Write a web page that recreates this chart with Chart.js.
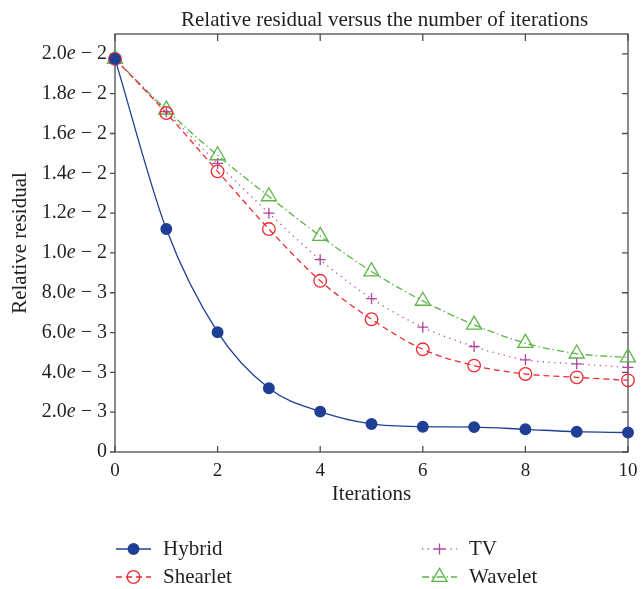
<!DOCTYPE html>
<html>
<head>
<meta charset="utf-8">
<script src="https://cdn.jsdelivr.net/npm/chart.js@4"></script>
<style>
  html, body { margin: 0; padding: 0; background: #fff; }
  canvas { display: block; }
</style>
</head>
<body>
<canvas id="myChart" width="641" height="589"></canvas>
<script>
// data
const iterations = [0, 1, 2, 3, 4, 5, 6, 7, 8, 9, 10];
const hybrid   = [0.01975, 0.0112, 0.00602, 0.0032, 0.00203, 0.00141, 0.00127, 0.00125, 0.00114, 0.00102, 0.00098];
const shearlet = [0.01975, 0.01703, 0.0141, 0.0112, 0.0086, 0.00667, 0.00516, 0.00434, 0.00392, 0.00375, 0.0036];
const tv       = [0.01975, 0.0171, 0.0145, 0.012, 0.00966, 0.00771, 0.00627, 0.0053, 0.00463, 0.00443, 0.00425];
const wavelet  = [0.01975, 0.0172, 0.0149, 0.01284, 0.01085, 0.00907, 0.00759, 0.00639, 0.00547, 0.00494, 0.00475];
const yTicks = [0, 0.002, 0.004, 0.006, 0.008, 0.010, 0.012, 0.014, 0.016, 0.018, 0.020];
const xTicks = [0, 2, 4, 6, 8, 10];
const titleText = 'Relative residual versus the number of iterations';

const SERIF = "'Liberation Serif', 'DejaVu Serif', serif";
const TEXT = '#231f20';
const AXIS = '#4d4d4d';

function pts(ys) {
    return iterations.map((x, i) => ({ x: x, y: ys[i] }));
}

// "2.0e − 3" with italic e
function tickParts(v) {
    if (v === 0) return ['0', '', ''];
    let exp = Math.floor(Math.log10(v) + 1e-9);
    let man = (v / Math.pow(10, exp)).toFixed(1);
    return [man, 'e', ' \u2212 ' + (-exp)];
}

// axes box, ticks, y tick labels and the title
const frame = {
    id: 'frame',
    beforeDatasetsDraw(chart) {
        const { ctx, chartArea: a } = chart;
        const xs = chart.scales.x, ys = chart.scales.y;
        ctx.save();
        ctx.strokeStyle = AXIS;
        ctx.lineWidth = 1.3;
        ctx.strokeRect(a.left, a.top, a.right - a.left, a.bottom - a.top);
        ctx.beginPath();
        xTicks.forEach(v => {
            const px = xs.getPixelForValue(v);
            ctx.moveTo(px, a.bottom); ctx.lineTo(px, a.bottom - 6);
            ctx.moveTo(px, a.top); ctx.lineTo(px, a.top + 7);
        });
        yTicks.forEach(v => {
            const py = ys.getPixelForValue(v);
            ctx.moveTo(a.left, py); ctx.lineTo(a.left - 5, py);
            ctx.moveTo(a.right, py); ctx.lineTo(a.right - 6, py);
        });
        ctx.stroke();

        ctx.fillStyle = TEXT;
        ctx.textBaseline = 'middle';
        ctx.textAlign = 'left';
        const fN = '20px ' + SERIF, fI = 'italic 20px ' + SERIF;
        yTicks.forEach(v => {
            const py = ys.getPixelForValue(v);
            const [m, e, rest] = tickParts(v);
            ctx.font = fN; const w1 = ctx.measureText(m).width, w3 = ctx.measureText(rest).width;
            ctx.font = fI; const w2 = ctx.measureText(e).width;
            let x = a.left - 8 - (w1 + w2 + w3);
            ctx.font = fN; ctx.fillText(m, x, py); x += w1;
            ctx.font = fI; ctx.fillText(e, x, py); x += w2;
            ctx.font = fN; ctx.fillText(rest, x, py);
        });

        ctx.font = '21px ' + SERIF;
        ctx.textBaseline = 'alphabetic';
        ctx.fillText(titleText, 181, 25.5);
        ctx.restore();
    }
};

// two-column legend under the plot
const legendPos = [
    { x: 116, y: 549 },
    { x: 116, y: 577 },
    { x: 422, y: 549 },
    { x: 422, y: 577 }
];
const bottomLegend = {
    id: 'bottomLegend',
    afterDraw(chart) {
        const ctx = chart.ctx;
        chart.data.datasets.forEach((ds, i) => {
            const p = legendPos[i];
            ctx.save();
            ctx.strokeStyle = ds.borderColor;
            ctx.lineWidth = ds.borderWidth;
            ctx.setLineDash(ds.borderDash || []);
            ctx.beginPath();
            ctx.moveTo(p.x, p.y); ctx.lineTo(p.x + 35, p.y);
            ctx.stroke();
            ctx.setLineDash([]);
            ctx.fillStyle = ds.pointBackgroundColor;
            ctx.strokeStyle = ds.pointBorderColor;
            ctx.lineWidth = ds.pointBorderWidth;
            Chart.helpers.drawPoint(ctx, {
                pointStyle: ds.pointStyle,
                radius: ds.pointRadius,
                borderWidth: ds.pointBorderWidth,
                rotation: 0
            }, p.x + 17.5, p.y);
            ctx.fillStyle = TEXT;
            ctx.font = '21px ' + SERIF;
            ctx.textBaseline = 'middle';
            ctx.fillText(ds.label, p.x + 47, p.y);
            ctx.restore();
        });
    }
};

function series(label, data, color, dash, style, radius, fill) {
    return {
        label: label,
        data: pts(data),
        borderColor: color,
        borderWidth: 1.3,
        borderDash: dash,
        pointStyle: style,
        pointRadius: radius,
        pointHoverRadius: radius,
        pointBorderColor: color,
        pointBorderWidth: 1.3,
        pointBackgroundColor: fill,
        cubicInterpolationMode: 'monotone',
        clip: false
    };
}

const ctx = document.getElementById('myChart').getContext('2d');
new Chart(ctx, {
    type: 'line',
    data: {
        datasets: [
            series('Hybrid', hybrid, '#1f3f94', [], 'circle', 5.3, '#1f3f94'),
            series('Shearlet', shearlet, '#ee2b30', [6, 4], 'circle', 6.3, 'rgba(0,0,0,0)'),
            series('TV', tv, '#b0469e', [1.2, 4.5], 'cross', 5.5, 'rgba(0,0,0,0)'),
            series('Wavelet', wavelet, '#5bb547', [7, 3, 1.5, 3], 'triangle', 8.7, 'rgba(0,0,0,0)')
        ]
    },
    options: {
        responsive: false,
        animation: false,
        devicePixelRatio: 1,
        layout: { padding: { top: 34, right: 13, bottom: 77, left: 0 } },
        plugins: {
            legend: { display: false },
            tooltip: { enabled: false },
            title: { display: false }
        },
        scales: {
            x: {
                type: 'linear',
                min: 0,
                max: 10,
                afterFit: s => { s.height = 60; s.paddingLeft = 0; s.paddingRight = 0; },
                afterBuildTicks: s => { s.ticks = xTicks.map(v => ({ value: v })); },
                grid: { display: false, drawTicks: false },
                border: { display: false },
                ticks: {
                    color: TEXT,
                    padding: 8,
                    maxRotation: 0,
                    font: { family: SERIF, size: 19 }
                },
                title: {
                    display: true,
                    text: 'Iterations',
                    color: TEXT,
                    font: { family: SERIF, size: 21 },
                    padding: { top: 0, bottom: 5 }
                }
            },
            y: {
                min: 0,
                max: 0.0210,
                afterFit: s => { s.width = 115; },
                afterBuildTicks: s => { s.ticks = yTicks.map(v => ({ value: v })); },
                grid: { display: false, drawTicks: false },
                border: { display: false },
                ticks: { display: false },
                title: {
                    display: true,
                    text: 'Relative residual',
                    color: TEXT,
                    font: { family: SERIF, size: 21 },
                    padding: { top: 8, bottom: 0 }
                }
            }
        }
    },
    plugins: [frame, bottomLegend]
});
</script>
</body>
</html>
